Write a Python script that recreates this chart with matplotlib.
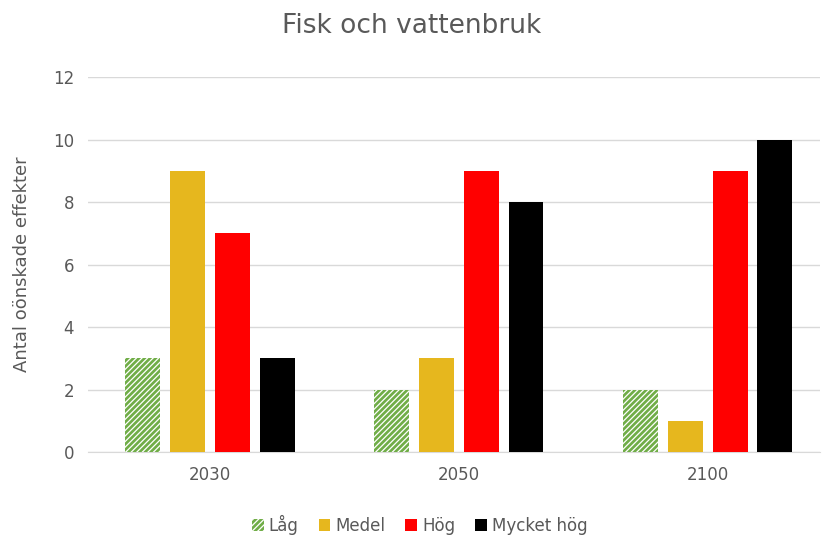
import numpy as np
import matplotlib.pyplot as plt
import matplotlib as mpl

years = ["2030", "2050", "2100"]
series = ["Låg", "Medel", "Hög", "Mycket hög"]
lag = [3, 2, 2]
medel = [9, 3, 1]
hog = [7, 9, 9]
mycket = [3, 8, 10]
values = [lag, medel, hog, mycket]
colors = ["#70ad47", "#e6b71e", "#ff0000", "#000000"]

mpl.rcParams['hatch.linewidth'] = 0.9
txt = "#595959"

fig = plt.figure(figsize=(8.23, 5.39), dpi=100)
ax = fig.add_axes([0.107, 0.161, 0.889, 0.696])

x = np.arange(len(years))
w = 0.14
step = 0.18
for i, (name, vals, c) in enumerate(zip(series, values, colors)):
    pos = x + (i - 1.5) * step
    if i == 0:
        ax.bar(pos, vals, w, color=c, edgecolor="white", hatch="//////",
               linewidth=0, label=name, zorder=3)
    else:
        ax.bar(pos, vals, w, color=c, label=name, zorder=3)

ax.set_xlim(-0.49, 2.45)
ax.set_ylim(0, 12)
ax.set_yticks(range(0, 13, 2))
ax.set_xticks(x)
ax.set_xticklabels(years)
ax.grid(axis="y", color="#d9d9d9", linewidth=1, zorder=0)
for s in ["top", "right", "left"]:
    ax.spines[s].set_visible(False)
ax.spines["bottom"].set_color("#d9d9d9")
ax.tick_params(length=0, labelsize=12, colors=txt, pad=10)
ax.set_ylabel("Antal oönskade effekter", fontsize=13, color=txt, labelpad=16)
fig.suptitle("Fisk och vattenbruk", fontsize=19, color=txt, y=0.975,
             fontweight="medium")

fig.legend(loc="lower center", ncol=4, frameon=False, fontsize=12,
           labelcolor=txt, handlelength=0.7, handleheight=0.7,
           handletextpad=0.3, columnspacing=1.2, bbox_to_anchor=(0.51, -0.02))

fig.savefig("out.png", dpi=100)
